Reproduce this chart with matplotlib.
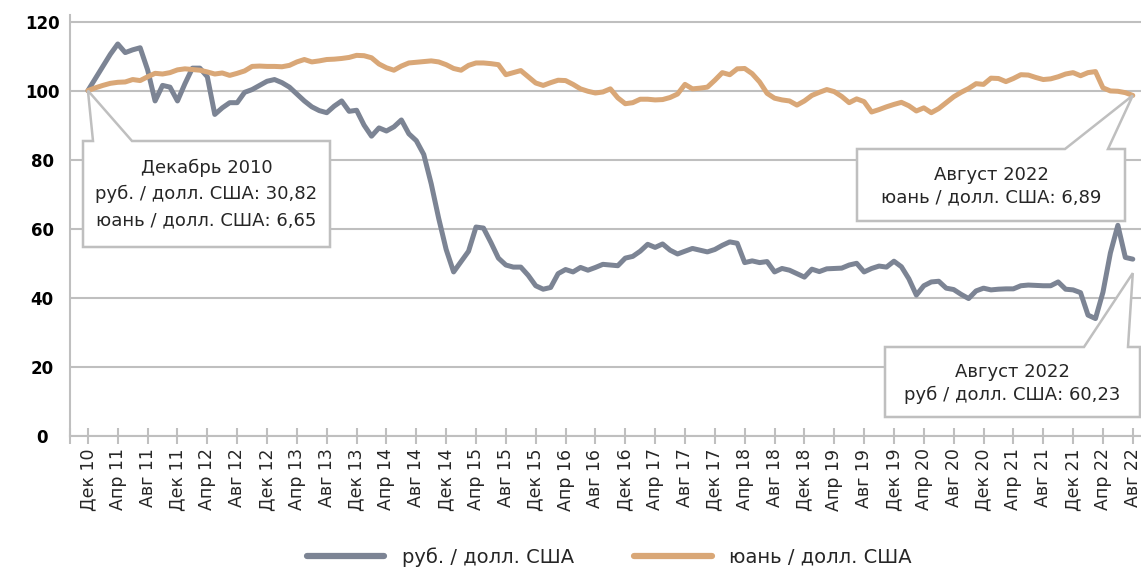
import numpy as np
import matplotlib.pyplot as plt
from matplotlib.patches import Polygon
from matplotlib.lines import Line2D

plt.rcParams['font.family'] = ['DejaVu Sans']

# monthly index, Dec 2010 = 100
rub = [100, 103.5, 107, 110.5, 113.5, 111, 111.8, 112.4, 106, 97,
       101.5, 101, 97, 102, 106.5, 106.5, 104, 93.1, 95, 96.5,
       96.5, 99.5, 100.3, 101.5, 102.7, 103.2, 102.3, 101, 99, 97,
       95.3, 94.2, 93.6, 95.5, 97, 94, 94.3, 90, 86.8, 89.2,
       88.3, 89.5, 91.5, 87.5, 85.5, 81.5, 73, 63, 54, 47.5,
       50.5, 53.5, 60.5, 60.2, 56, 51.5, 49.5, 48.9, 48.9, 46.5,
       43.5, 42.5, 43, 47, 48.2, 47.5, 48.8, 48, 48.8, 49.7,
       49.5, 49.3, 51.5, 52, 53.5, 55.5, 54.6, 55.6, 53.8, 52.7,
       53.5, 54.3, 53.8, 53.3, 54, 55.2, 56.2, 55.8, 50.2, 50.7,
       50.2, 50.5, 47.5, 48.5, 48, 47, 46, 48.3, 47.6, 48.4,
       48.5, 48.6, 49.5, 50, 47.5, 48.5, 49.2, 48.9, 50.6, 49,
       45.5, 40.8, 43.5, 44.6, 44.8, 42.8, 42.4, 41, 39.8, 42,
       42.8, 42.3, 42.5, 42.6, 42.6, 43.5, 43.7, 43.6, 43.5, 43.5,
       44.6, 42.5, 42.3, 41.5, 35, 34, 41.6, 53, 61, 51.7,
       51.2]

yuan = [100, 100.8, 101.5, 102.1, 102.4, 102.5, 103.2, 102.9, 104, 105,
        104.8, 105.2, 106, 106.3, 106.1, 105.9, 105.4, 104.8, 105.1, 104.4,
        105, 105.7, 107, 107.1, 107, 107, 106.9, 107.3, 108.3, 109,
        108.3, 108.6, 109, 109.1, 109.3, 109.6, 110.2, 110.1, 109.5, 107.7,
        106.6, 105.9, 107.1, 108, 108.2, 108.4, 108.6, 108.3, 107.5, 106.4,
        105.9, 107.3, 108, 108, 107.8, 107.5, 104.6, 105.2, 105.8, 104,
        102.2, 101.5, 102.3, 103, 102.9, 101.8, 100.5, 99.8, 99.3, 99.6,
        100.5, 97.9, 96.2, 96.5, 97.5, 97.5, 97.3, 97.4, 98, 99,
        101.8, 100.5, 100.7, 101, 103, 105.2, 104.6, 106.3, 106.4, 104.9,
        102.5, 99.2, 97.8, 97.3, 97, 95.8, 97, 98.6, 99.5, 100.3,
        99.7, 98.3, 96.5, 97.6, 96.8, 93.8, 94.5, 95.3, 96, 96.6,
        95.6, 94.1, 95, 93.6, 94.8, 96.5, 98.2, 99.5, 100.6, 102,
        101.8, 103.6, 103.5, 102.6, 103.5, 104.6, 104.5, 103.8, 103.2, 103.4,
        104, 104.8, 105.2, 104.3, 105.2, 105.5, 100.8, 99.9, 99.8, 99.4,
        98.6]

tick_labels = ['Дек 10', 'Апр 11', 'Авг 11', 'Дек 11', 'Апр 12', 'Авг 12',
               'Дек 12', 'Апр 13', 'Авг 13', 'Дек 13', 'Апр 14', 'Авг 14',
               'Дек 14', 'Апр 15', 'Авг 15', 'Дек 15', 'Апр 16', 'Авг 16',
               'Дек 16', 'Апр 17', 'Авг 17', 'Дек 17', 'Апр 18', 'Авг 18',
               'Дек 18', 'Апр 19', 'Авг 19', 'Дек 19', 'Апр 20', 'Авг 20',
               'Дек 20', 'Апр 21', 'Авг 21', 'Дек 21', 'Апр 22', 'Авг 22']

rub_color = '#7c8494'
yuan_color = '#d9a777'
grid_color = '#bfbfbf'
text_color = '#262626'

W, H = 1141, 571
fig = plt.figure(figsize=(W / 100, H / 100), dpi=100)
ax = fig.add_axes([70 / W, (H - 436) / H, 1 - 70 / W, (436 - 14.6) / H])

x = np.arange(len(rub))
ax.plot(x, rub, color=rub_color, lw=3.6, solid_joinstyle='round',
        solid_capstyle='round', zorder=3)
ax.plot(x, yuan, color=yuan_color, lw=3.6, solid_joinstyle='round',
        solid_capstyle='round', zorder=3)

ax.set_xlim(-2.4, 141.1)
ax.set_ylim(0, 122)
ax.set_yticks(range(0, 121, 20))
ax.yaxis.grid(True, color=grid_color, lw=1.5)
ax.set_axisbelow(True)
for s in ['top', 'right']:
    ax.spines[s].set_visible(False)
for s in ['left', 'bottom']:
    ax.spines[s].set_color(grid_color)
    ax.spines[s].set_linewidth(1.5)

ax.set_xticks(np.arange(0, len(rub), 4))
ax.set_xticklabels(tick_labels)
ax.set_xticks([-2.4], minor=True)
ax.tick_params(axis='x', which='both', direction='inout', length=12, width=1.5,
               color=grid_color, labelsize=12.5, labelrotation=90, pad=3,
               labelcolor=text_color)
ax.tick_params(axis='y', length=0, pad=20, labelsize=12)
for lab in ax.get_yticklabels():
    lab.set_fontweight('bold')
    lab.set_horizontalalignment('center')

handles = [Line2D([], [], color=rub_color, lw=4.5, solid_capstyle='round'),
           Line2D([], [], color=yuan_color, lw=4.5, solid_capstyle='round')]
fig.legend(handles, ['руб. / долл. США', 'юань / долл. США'], loc='center',
           bbox_to_anchor=(0.534, 1 - 557 / H), ncol=2, frameon=False,
           fontsize=14, handlelength=4.0, handletextpad=0.9, columnspacing=3.1,
           labelcolor=text_color)


def to_fig(px, py):
    return (px / W, 1 - py / H)


def callout(xi, yi, box, base, lines, line_y, dy=0):
    fig.canvas.draw()
    ax_px = ax.transData.transform((xi, yi))
    apex = (ax_px[0] / W, ax_px[1] / H - dy / H)
    x0, y0, x1, y1 = box
    pts = [to_fig(x0, y0), to_fig(base[0], y0), apex, to_fig(base[1], y0),
           to_fig(x1, y0), to_fig(x1, y1), to_fig(x0, y1)]
    fig.patches.append(Polygon(pts, closed=True, transform=fig.transFigure,
                               facecolor='white', edgecolor=grid_color,
                               lw=1.8, zorder=5))
    cx = (x0 + x1) / 2
    for t, ty in zip(lines, line_y):
        fig.text(cx / W, 1 - ty / H, t, ha='center', va='center',
                 fontsize=13, color=text_color, zorder=6)


callout(0, rub[0], (83, 141, 330, 247), (93, 132),
        ['Декабрь 2010', 'руб. / долл. США: 30,82', 'юань / долл. США: 6,65'],
        [168, 194, 220])
callout(140, yuan[-1], (857, 149, 1125, 221), (1065, 1108),
        ['Август 2022', 'юань / долл. США: 6,89'], [175, 197])
callout(140, rub[-1], (885, 347, 1140, 417), (1084, 1128),
        ['Август 2022', 'руб / долл. США: 60,23'], [372, 395], dy=14)

fig.savefig('out.png', dpi=100)
